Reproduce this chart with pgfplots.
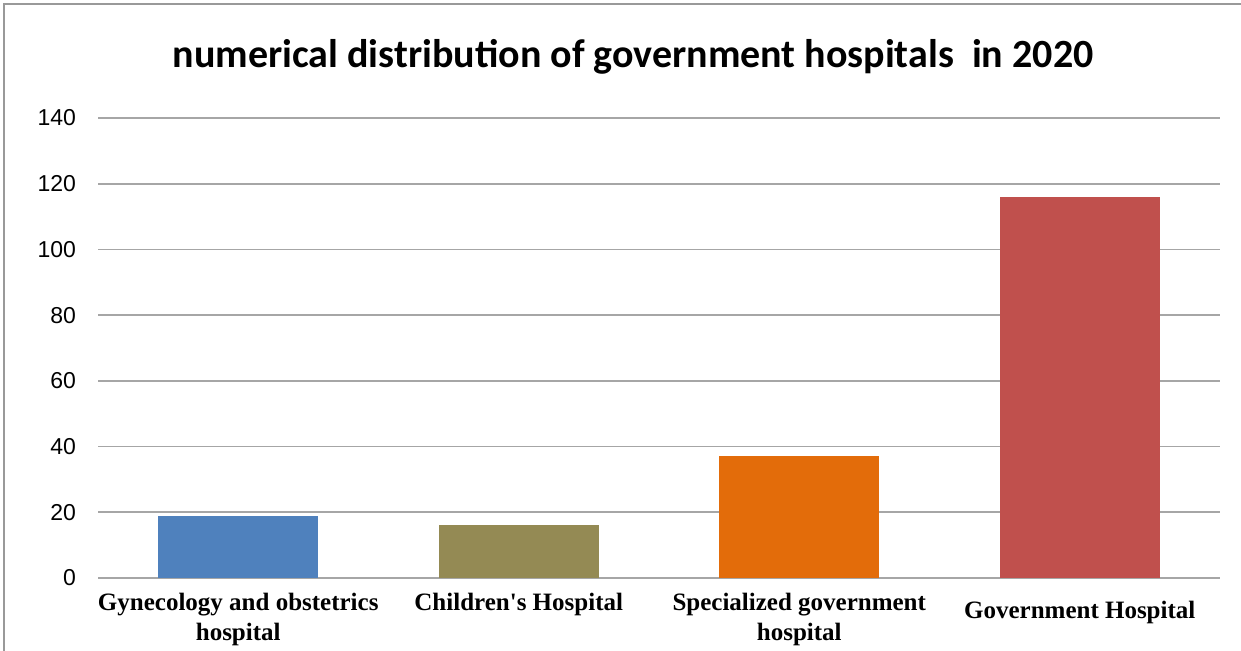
\documentclass[border=0pt]{standalone}
\usepackage{pgfplots}
\pgfplotsset{compat=1.18}
\usepackage{fontspec}
\setmainfont{Liberation Sans}
\newfontfamily\titlefont{Carlito}
\newfontfamily\labfont{Liberation Serif}
\definecolor{gridc}{HTML}{A6A6A6}
\definecolor{cA}{HTML}{4F81BD}
\definecolor{cB}{HTML}{948A54}
\definecolor{cC}{HTML}{E36C0A}
\definecolor{cD}{HTML}{C0504D}
\begin{document}
\begin{tikzpicture}[x=0.5pt,y=0.5pt]
\useasboundingbox (-98,-73) rectangle (1143,578);
\draw[color=gray!80, line width=1.2pt] (-94,-73) -- (-94,574) -- (1143,574);
\begin{axis}[
  at={(0,0)}, anchor=south west,
  scale only axis, width=561pt, height=230pt,
  xmin=-0.5, xmax=3.5, ymin=0, ymax=140,
  ytick={0,20,...,140},
  xtick={0,1,2,3},
  xticklabels={{Gynecology and obstetrics\\hospital},{Children's Hospital},{Specialized government\\hospital},{\rule{0pt}{12.5pt}Government Hospital}},
  x tick label style={font=\labfont\bfseries\fontsize{12.5}{15}\selectfont, align=center, anchor=north, yshift=-4pt},
  y tick label style={font=\fontsize{11.5}{13}\selectfont, xshift=-7.5pt},
  /pgf/number format/assume math mode=true,
  axis x line*=bottom, axis y line*=left,
  x axis line style={gridc, line width=0.8pt},
  y axis line style={draw=none},
  ymajorgrids, grid style={gridc, line width=0.8pt},
  major tick length=0pt,
  tick style={draw=none},
  ybar, bar width=80pt, bar shift=0pt,
  clip=false,
]
\addplot[fill=cA, draw=none] coordinates {(0,19)};
\addplot[fill=cB, draw=none] coordinates {(1,16)};
\addplot[fill=cC, draw=none] coordinates {(2,37)};
\addplot[fill=cD, draw=none] coordinates {(3,116)};
\end{axis}
\node[font=\titlefont\bfseries\fontsize{20}{24}\selectfont] at (535,521) {numerical distribution of government hospitals\ \ in 2020};
\end{tikzpicture}
\end{document}
